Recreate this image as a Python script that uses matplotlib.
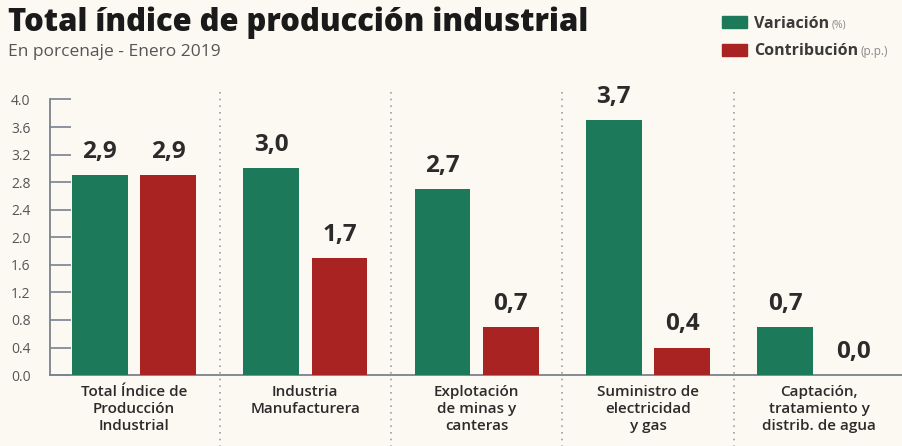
import matplotlib
matplotlib.use("Agg")
import matplotlib.pyplot as plt
import matplotlib.transforms as mtransforms
import numpy as np

# =====================================
# DATA
# =====================================
categorias = [
    "Total Índice de\nProducción\nIndustrial",
    "Industria\nManufacturera",
    "Explotación\nde minas y\ncanteras",
    "Suministro de\nelectricidad\ny gas",
    "Captación,\ntratamiento y\ndistrib. de agua",
]
variacion = [2.9, 3.0, 2.7, 3.7, 0.7]
contribucion = [2.9, 1.7, 0.7, 0.4, 0.0]
y_ticks = [0.0, 0.4, 0.8, 1.2, 1.6, 2.0, 2.4, 2.8, 3.2, 3.6, 4.0]

VERDE = "#1c7a5b"
ROJO = "#a82322"
GRIS = "#7a8290"
TEXTO = "#2b2b2b"
FONDO = "#fbf9f1"

plt.rcParams["font.family"] = ["Open Sans", "DejaVu Sans"]

# =====================================
# FIGURA
# =====================================
fig = plt.figure(figsize=(9.02, 4.46), dpi=100, facecolor=FONDO)
ax = fig.add_axes([0.0555, 0.159, 0.944, 0.618])
ax.set_facecolor(FONDO)

x = np.arange(len(categorias))
ancho = 0.325
off = 0.2

ax.bar(x - off, variacion, ancho, color=VERDE, zorder=3)
ax.bar(x + off, contribucion, ancho, color=ROJO, zorder=3)

# etiquetas de valor
for xi, v in zip(x - off, variacion):
    ax.annotate(f"{v:.1f}".replace(".", ","), (xi, v), xytext=(0, 8),
                textcoords="offset points", ha="center", va="bottom",
                fontsize=17.5, fontweight="bold", color=TEXTO)
for xi, v in zip(x + off, contribucion):
    ax.annotate(f"{v:.1f}".replace(".", ","), (xi, v), xytext=(0, 8),
                textcoords="offset points", ha="center", va="bottom",
                fontsize=17.5, fontweight="bold", color=TEXTO)

# separadores punteados
trans = mtransforms.blended_transform_factory(ax.transData, ax.transAxes)
for s in x[:-1] + 0.5:
    ax.plot([s, s], [-0.26, 1.04], transform=trans, clip_on=False,
            color="#a0a0a0", lw=1.2, ls=(0, (1, 3)), zorder=1)

# ejes
ax.set_xlim(-0.49, 4.48)
ax.set_ylim(0, 4.0)
ax.set_yticks(y_ticks)
ax.set_yticklabels([f"{t:.1f}" for t in y_ticks])
ax.tick_params(axis="y", direction="in", length=15, width=1.2, color=GRIS,
               labelsize=10, labelcolor="#555555", pad=14)
ax.set_xticks(x)
ax.set_xticklabels(categorias, fontweight="semibold")
ax.tick_params(axis="x", length=0, labelsize=11, labelcolor=TEXTO, pad=7)
for lbl in ax.get_xticklabels():
    lbl.set_linespacing(1.3)

for side in ["top", "right"]:
    ax.spines[side].set_visible(False)
for side in ["left", "bottom"]:
    ax.spines[side].set_color(GRIS)
    ax.spines[side].set_linewidth(1.3)

# =====================================
# TITULO Y LEYENDA
# =====================================
fig.text(0.009, 0.93, "Total índice de producción industrial",
         fontsize=22.3, fontweight="heavy", color="#1a1a1a", ha="left", va="baseline")
fig.text(0.009, 0.874, "En porcenaje - Enero 2019",
         fontsize=12.5, color="#555555", ha="left", va="baseline")

fig.patches.append(plt.Rectangle((0.800, 0.937), 0.028, 0.027, transform=fig.transFigure,
                                 color=VERDE))
fig.patches.append(plt.Rectangle((0.800, 0.875), 0.028, 0.027, transform=fig.transFigure,
                                 color=ROJO))
t1 = fig.text(0.836, 0.938, "Variación", fontsize=11.5, fontweight="bold",
              color="#3a3a3a", ha="left", va="baseline")
t2 = fig.text(0.836, 0.876, "Contribución", fontsize=11.5, fontweight="bold",
              color="#3a3a3a", ha="left", va="baseline")
fig.canvas.draw()
r = fig.canvas.get_renderer()
b1 = t1.get_window_extent(r).transformed(fig.transFigure.inverted())
b2 = t2.get_window_extent(r).transformed(fig.transFigure.inverted())
fig.text(b1.x1 + 0.003, 0.938, "(%)", fontsize=7.5, color="#888888",
         ha="left", va="baseline")
fig.text(b2.x1 + 0.003, 0.876, "(p.p.)", fontsize=8.5, color="#888888",
         ha="left", va="baseline")

plt.savefig("out.png", dpi=100, facecolor=FONDO)
plt.close()
